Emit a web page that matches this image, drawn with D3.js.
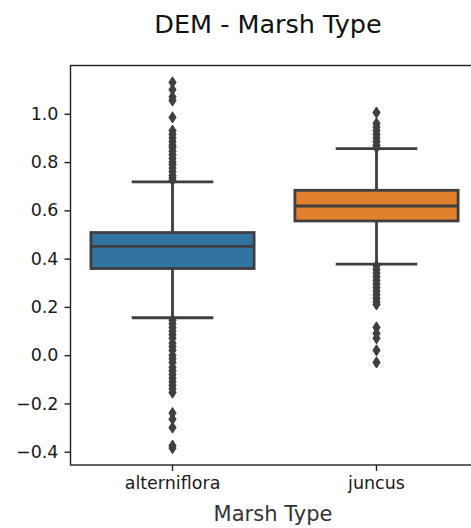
<!DOCTYPE html>
<html>
  <head>
    <meta charset="utf-8" />
    <title>DEM - Marsh Type</title>
    <style>
      body { margin: 0; background: #fff; }
      text { font-family: "DejaVu Sans", sans-serif; }
    </style>
  </head>
  <body>
    <script src="https://cdn.jsdelivr.net/npm/d3@7/dist/d3.min.js"></script>
    <script>
      // data
      const categories = ["alterniflora", "juncus"];
      const colors = ["#3274a1", "#e1812c"];
      const q1 = [0.359, 0.556];
      const medians = [0.451, 0.618];
      const q3 = [0.508, 0.683];
      const whiskerLow = [0.155, 0.377];
      const whiskerHigh = [0.718, 0.856];
      const fliers = [
        [1.13, 1.1, 1.07, 1.055, 0.985, 0.93, 0.915, 0.9, 0.885, 0.87, 0.86,
         0.845, 0.83, 0.815, 0.8, 0.79, 0.775, 0.76, 0.745, 0.735, 0.725,
         0.145, 0.13, 0.115, 0.1, 0.085, 0.07, 0.05, 0.035, 0.02, 0.0,
         -0.015, -0.03, -0.05, -0.065, -0.08, -0.095, -0.11, -0.125, -0.14,
         -0.155, -0.24, -0.265, -0.3, -0.375, -0.385],
        [1.005, 0.96, 0.945, 0.93, 0.915, 0.9, 0.885, 0.87, 0.86,
         0.37, 0.355, 0.34, 0.325, 0.31, 0.295, 0.28, 0.265, 0.25, 0.235,
         0.22, 0.21, 0.115, 0.09, 0.07, 0.02, -0.03]
      ];
      const yTicks = [-0.4, -0.2, 0.0, 0.2, 0.4, 0.6, 0.8, 1.0];

      const width = 471;
      const height = 528;
      const mLeft = 70.5, mRight = 478.5, mTop = 65.5, mBottom = 465;
      const gray = "#3f3f3f";

      const svg = d3
        .select("body")
        .append("svg")
        .attr("width", width)
        .attr("height", height);

      const x = d3.scaleBand().domain(categories).range([mLeft, mRight]);
      const y = d3.scaleLinear().domain([-0.455, 1.2]).range([mBottom, mTop]);
      const bw = x.bandwidth();
      const cx = (c) => x(c) + bw / 2;

      const boxes = categories.map((c, i) => ({
        c: c, color: colors[i], q1: q1[i], med: medians[i], q3: q3[i],
        lo: whiskerLow[i], hi: whiskerHigh[i], fl: fliers[i]
      }));

      const g = svg.selectAll("g.box").data(boxes).enter().append("g").attr("class", "box");

      // whiskers
      g.append("line")
        .attr("x1", (d) => cx(d.c)).attr("x2", (d) => cx(d.c))
        .attr("y1", (d) => y(d.q3)).attr("y2", (d) => y(d.hi))
        .attr("stroke", gray).attr("stroke-width", 2.8);
      g.append("line")
        .attr("x1", (d) => cx(d.c)).attr("x2", (d) => cx(d.c))
        .attr("y1", (d) => y(d.q1)).attr("y2", (d) => y(d.lo))
        .attr("stroke", gray).attr("stroke-width", 2.8);
      // caps
      ["hi", "lo"].forEach((k) => {
        g.append("line")
          .attr("x1", (d) => cx(d.c) - bw * 0.2).attr("x2", (d) => cx(d.c) + bw * 0.2)
          .attr("y1", (d) => y(d[k])).attr("y2", (d) => y(d[k]))
          .attr("stroke", gray).attr("stroke-width", 2.8);
      });

      // box
      g.append("rect")
        .attr("x", (d) => cx(d.c) - bw * 0.4)
        .attr("width", bw * 0.8)
        .attr("y", (d) => y(d.q3))
        .attr("height", (d) => y(d.q1) - y(d.q3))
        .attr("fill", (d) => d.color)
        .attr("stroke", gray).attr("stroke-width", 2.8);
      // median
      g.append("line")
        .attr("x1", (d) => cx(d.c) - bw * 0.4).attr("x2", (d) => cx(d.c) + bw * 0.4)
        .attr("y1", (d) => y(d.med)).attr("y2", (d) => y(d.med))
        .attr("stroke", gray).attr("stroke-width", 2.8);

      // fliers (thin diamonds)
      const dia = "M0,-5.6 L3.6,0 L0,5.6 L-3.6,0 Z";
      g.each(function (d) {
        d3.select(this).selectAll("path.fl").data(d.fl).enter().append("path")
          .attr("class", "fl")
          .attr("d", dia)
          .attr("transform", (v) => `translate(${cx(d.c)},${y(v)})`)
          .attr("fill", gray).attr("stroke", gray).attr("stroke-width", 1);
      });

      // frame
      svg.append("rect")
        .attr("x", mLeft).attr("y", mTop)
        .attr("width", mRight - mLeft).attr("height", mBottom - mTop)
        .attr("fill", "none").attr("stroke", "#222").attr("stroke-width", 1.4);

      // axes
      const yAxis = svg.append("g")
        .attr("transform", `translate(${mLeft},0)`)
        .call(d3.axisLeft(y).tickValues(yTicks).tickFormat(d3.format(".1f")).tickSize(6).tickPadding(6));
      yAxis.select(".domain").remove();
      yAxis.selectAll("text").attr("font-size", 17.5).attr("fill", "#1a1a1a")
        .attr("font-family", "DejaVu Sans");
      yAxis.selectAll("line").attr("stroke", "#222").attr("stroke-width", 1.4);

      const xAxis = svg.append("g")
        .attr("transform", `translate(0,${mBottom})`)
        .call(d3.axisBottom(x).tickSize(6).tickPadding(6));
      xAxis.select(".domain").remove();
      xAxis.selectAll("text").attr("font-size", 17.5).attr("fill", "#1a1a1a")
        .attr("font-family", "DejaVu Sans");
      xAxis.selectAll("line").attr("stroke", "#222").attr("stroke-width", 1.4);

      svg.append("text")
        .attr("x", 273).attr("y", 521)
        .attr("text-anchor", "middle")
        .attr("font-size", 21)
        .attr("fill", "#333")
        .text("Marsh Type");

      svg.append("text")
        .attr("x", 268).attr("y", 33)
        .attr("text-anchor", "middle")
        .attr("font-size", 25.5)
        .attr("fill", "#111")
        .text("DEM - Marsh Type");
    </script>
  </body>
</html>
